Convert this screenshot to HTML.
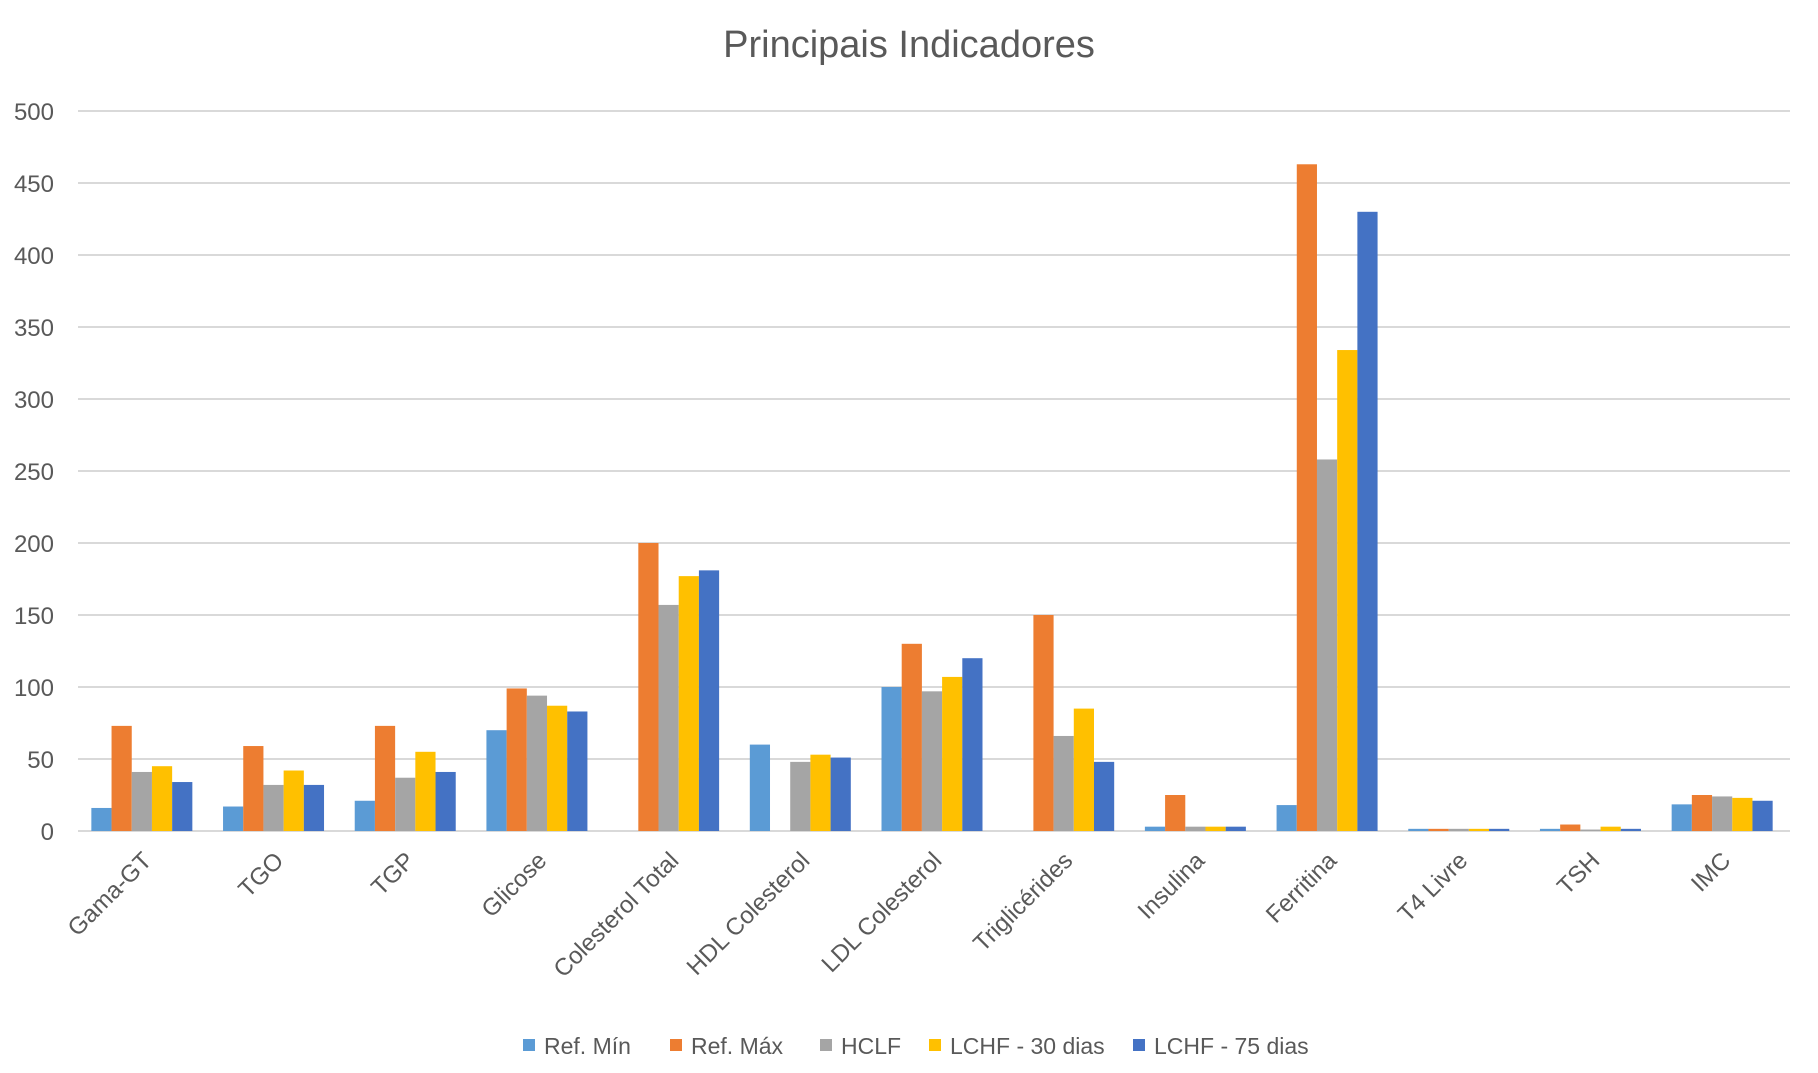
<!DOCTYPE html>
<html><head><meta charset="utf-8"><style>
html,body{margin:0;padding:0;background:#fff;}
svg{display:block;font-family:"Liberation Sans",sans-serif;}
</style></head><body>
<svg id="c" width="1818" height="1073" viewBox="0 0 1818 1073">
<text x="909" y="57" text-anchor="middle" font-size="38" fill="#595959">Principais Indicadores</text>
<g id="grid" stroke="#d9d9d9" stroke-width="2"></g>
<g font-size="24" fill="#595959" text-anchor="end">
<text x="54" y="120">500</text><text x="54" y="192">450</text><text x="54" y="264">400</text>
<text x="54" y="336">350</text><text x="54" y="408">300</text><text x="54" y="480">250</text>
<text x="54" y="552">200</text><text x="54" y="624">150</text><text x="54" y="696">100</text>
<text x="54" y="768">50</text><text x="54" y="840">0</text>
</g>
<g id="bars"></g>
<g font-size="24" fill="#595959" text-anchor="end">
<text transform="translate(153,862) rotate(-45)">Gama-GT</text>
<text transform="translate(285,862) rotate(-45)">TGO</text>
<text transform="translate(416,862) rotate(-45)">TGP</text>
<text transform="translate(548,862) rotate(-45)">Glicose</text>
<text transform="translate(680,862) rotate(-45)">Colesterol Total</text>
<text transform="translate(811,862) rotate(-45)">HDL Colesterol</text>
<text transform="translate(943,862) rotate(-45)">LDL Colesterol</text>
<text transform="translate(1074,862) rotate(-45)">Triglicérides</text>
<text transform="translate(1206,862) rotate(-45)">Insulina</text>
<text transform="translate(1338,862) rotate(-45)">Ferritina</text>
<text transform="translate(1469,862) rotate(-45)">T4 Livre</text>
<text transform="translate(1601,862) rotate(-45)">TSH</text>
<text transform="translate(1732,862) rotate(-45)">IMC</text>
</g>
<g font-size="23" fill="#595959">
<rect x="523" y="1039" width="12" height="12" fill="#5B9BD5"/><text x="544" y="1054">Ref. Mín</text>
<rect x="670" y="1039" width="12" height="12" fill="#ED7D31"/><text x="691" y="1054">Ref. Máx</text>
<rect x="820" y="1039" width="12" height="12" fill="#A5A5A5"/><text x="841" y="1054">HCLF</text>
<rect x="929" y="1039" width="12" height="12" fill="#FFC000"/><text x="950" y="1054">LCHF - 30 dias</text>
<rect x="1133" y="1039" width="12" height="12" fill="#4472C4"/><text x="1154" y="1054">LCHF - 75 dias</text>
</g>
</svg>
<script>
var ns="http://www.w3.org/2000/svg";
var g=document.getElementById("grid");
for(var i=0;i<=10;i++){var y=111+i*72;var l=document.createElementNS(ns,"line");l.setAttribute("x1",78);l.setAttribute("x2",1790);l.setAttribute("y1",y);l.setAttribute("y2",y);g.appendChild(l);}
var d=[[16,73,41,45,34],[17,59,32,42,32],[21,73,37,55,41],[70,99,94,87,83],[0,200,157,177,181],[60,0,48,53,51],[100,130,97,107,120],[0,150,66,85,48],[3,25,3,3,3],[18,463,258,334,430],[1.5,1.5,1.5,1.5,1.5],[1.5,4.5,1,3,1.5],[18.5,25,24,23,21]];
var cols=["#5B9BD5","#ED7D31","#A5A5A5","#FFC000","#4472C4"];
var b=document.getElementById("bars");var cw=(1790-78)/13,bw=20.2;
for(var c=0;c<13;c++){var x0=76+c*cw+cw/2-bw*2.5;
for(var s=0;s<5;s++){var v=d[c][s];if(!v)continue;var h=v*1.44;var r=document.createElementNS(ns,"rect");
r.setAttribute("x",x0+s*bw);r.setAttribute("width",bw);r.setAttribute("y",831-h);r.setAttribute("height",h);r.setAttribute("fill",cols[s]);b.appendChild(r);}}
</script>
</body></html>
